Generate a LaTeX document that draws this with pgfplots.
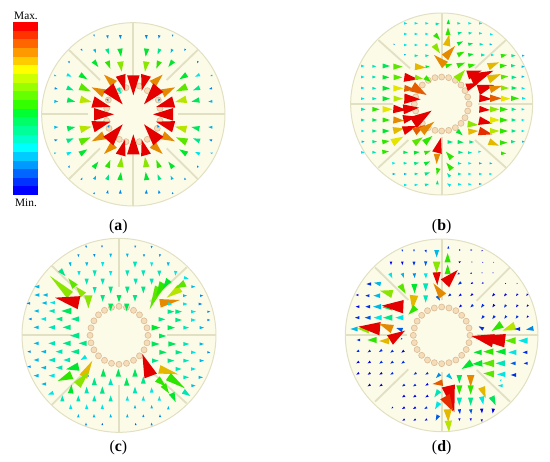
\documentclass[border=0pt]{standalone}
\usepackage{fontspec}
\setmainfont{Liberation Serif}
\usepackage{pgfplots}
\usepackage{pgfplotstable}
\pgfplotsset{compat=1.18}
\definecolor{discfill}{HTML}{FCFBE8}
\definecolor{discedge}{HTML}{E2E0C2}
\definecolor{ringfill}{HTML}{F6DDBA}
\definecolor{ringedge}{HTML}{DDBE98}
\pgfplotsset{colormap={field}{rgb255=(0,0,255) rgb255=(0,51,255) rgb255=(0,102,255) rgb255=(0,153,255) rgb255=(0,204,255) rgb255=(0,255,255) rgb255=(0,255,204) rgb255=(0,255,153) rgb255=(0,255,102) rgb255=(0,255,51) rgb255=(51,255,0) rgb255=(102,255,0) rgb255=(153,255,0) rgb255=(204,255,0) rgb255=(255,255,0) rgb255=(255,204,0) rgb255=(255,153,0) rgb255=(255,102,0) rgb255=(255,51,0) rgb255=(255,0,0)}}
\pgfdeclareplotmark{arw}{%
 \pgfmathsetmacro\aL{0.2*veclen(\dX,\dY)}%
 \pgfmathsetmacro\aC{\cC>=16.5?20:13}%
 \pgfmathsetmacro\aW{0.2*min(0.3*veclen(\dX,\dY)+0.8,\aC)}%
 \pgfmathsetmacro\aA{atan2(-\dY,\dX)}%
 \pgftransformrotate{\aA}%
 \pgfpathmoveto{\pgfqpoint{\aL pt}{0pt}}%
 \pgfpathlineto{\pgfqpoint{0pt}{\aW pt}}%
 \pgfpathlineto{\pgfqpoint{0pt}{-\aW pt}}%
 \pgfpathclose\pgfusepathqfill}
\pgfdeclareplotmark{band}{%
 \pgfpathrectangle{\pgfqpoint{-7.5pt}{-2.65pt}}{\pgfqpoint{15pt}{5.3pt}}\pgfusepathqfill}
\pgfplotstableread{
x y c
75.5 79 19
75.5 105 18
75.5 131 17
75.5 157 16
75.5 183 15
75.5 209 14
75.5 235 13
75.5 261 12
75.5 287 11
75.5 313 10
75.5 339 9
75.5 365 8
75.5 391 7
75.5 417 6
75.5 443 5
75.5 469 4
75.5 495 3
75.5 521 2
75.5 547 1
75.5 572 0
}\barT
\pgfplotstableread{
x y
378 263
418 258
442 272
358 272
325 300
320 325
320 362
327 385
358 418
378 425
418 425
442 418
472 385
480 362
480 325
475 300
}\ringA
\pgfplotstableread{
x y
480 233
500 231
521 233
541 241
558 255
570 272
578 291
582 312
578 333
570 353
558 370
541 383
521 391
500 393
480 391
460 383
442 370
430 353
422 333
418 312
422 291
430 272
442 255
460 241
}\ringB
\pgfplotstableread{
x y
357 229
379.5 232
400.5 241
418.5 254.5
432.3 272.5
441 293.5
444 316
441 338.5
432.3 359.5
418.5 377.5
400.5 391
379.5 400
357 403
334.5 400
313.5 391
295.5 377.5
281.7 359.5
273 338.5
270 316
273 293.5
281.7 272.5
295.5 254.5
313.5 241
334.5 232
}\ringC
\pgfplotstableread{
x y
500 231
522 234
542.5 242
560 256
573.6 273.5
582 294
585 316
582 338
573.6 358.5
560 376
542.5 390
522 398
500 401
478 398
457.5 390
440 376
426.4 358.5
418 338
415 316
418 294
426.4 273.5
440 256
457.5 242
478 234
}\ringD
\pgfplotstableread{
x y dx dy c
282 104 1 6 3
322 106 2 10 3
361 105 0 12 3
518 104 -1 6 3
478 106 -2 10 3
439 105 0 12 3
282 582 1 -6 3
322 580 2 -10 3
361 581 0 -12 3
518 582 -1 -6 3
478 580 -2 -10 3
439 581 0 -12 3
244 147 3 6 3
283 148 5 11 4
321 147 6 16 7
360 146 3 24 9
556 147 -3 6 3
517 148 -5 11 4
479 147 -6 16 7
440 146 -3 24 9
244 539 3 -6 3
283 538 5 -11 4
321 539 6 -16 7
360 540 3 -24 9
556 539 -3 -6 3
517 538 -5 -11 4
479 539 -6 -16 7
440 540 -3 -24 9
206 184 3 6 3
281 183 14 18 9
322 184 9 22 10
361 185 4 30 12
594 184 -3 6 3
519 183 -14 18 9
478 184 -9 22 10
439 185 -4 30 12
206 502 3 -6 3
281 503 14 -18 9
322 502 9 -22 10
361 501 4 -30 12
594 502 -3 -6 3
519 503 -14 -18 9
478 502 -9 -22 10
439 501 -4 -30 12
163 226 6 2 4
201 224 14 6 5
240 224 22 14 9
637 226 -6 2 4
599 224 -14 6 5
560 224 -22 14 9
163 460 6 -2 4
201 462 14 -6 5
240 462 22 -14 9
637 460 -6 -2 4
599 462 -14 -6 5
560 462 -22 -14 9
164 265 9 2 3
201 263 20 8 7
240 260 32 14 11
636 265 -9 2 3
599 263 -20 8 7
560 260 -32 14 11
164 421 9 -2 3
201 423 20 -8 7
240 426 32 -14 11
636 421 -9 -2 3
599 423 -20 -8 7
560 426 -32 -14 11
163 304 12 1 4
202 300 24 5 8
241 298 34 8 13
637 304 -12 1 4
598 300 -24 5 8
559 298 -34 8 13
163 382 12 -1 4
202 386 24 -5 8
241 388 34 -8 13
637 382 -12 -1 4
598 386 -24 -5 8
559 388 -34 -8 13
342 252 -30 -28 16
312 280 -37 -18 16
458 252 30 -28 16
488 280 37 -18 16
342 434 -30 28 16
312 406 -37 18 16
458 434 30 28 16
488 406 37 18 16
400 226 0 60 19
362 226 13 46 19
438 226 -13 46 19
325 263 43 50 19
475 263 -43 50 19
279 306 53 15 19
521 306 -53 15 19
282 343 60 0 19
519 343 -60 0 19
279 380 53 -15 19
521 380 -53 -15 19
325 423 43 -50 19
475 423 -43 -50 19
362 465 13 -46 19
438 465 -13 -46 19
400 463 0 -60 19
355 265 8 16 6
322 297 3 8 3
478 297 -3 8 3
325 382 3 -8 3
475 382 -3 -8 3
}\arrA
\pgfplotstableread{
x y dx dy c
387 70 10 0 5
419 70 10 0 5
451 70 10 0 5
482 72 12 -1 6
520 72 0 -14 9
547 70 10 0 6
580 70 10 0 5
612 70 10 0 5
387 102 10 0 5
419 102 10 0 5
451 102 10 0 5
480 103 15 17 10
519 105 0 -23 10
549 100 12 -3 7
581 100 11 -2 6
612 100 10 0 5
645 103 9 0 5
356 133 4 0 3
387 135 10 0 5
419 135 10 0 5
451 135 10 0 5
478 135 17 25 12
515 137 8 -34 15
548 132 16 -8 9
580 133 14 -3 8
614 133 11 0 6
644 133 8 0 4
388 165 5 -3 4
419 167 11 0 6
451 167 11 0 6
510 195 -33 -30 16
510 172 30 -34 16
548 165 20 -10 10
580 165 16 -3 9
618 165 13 0 6
648 165 10 0 5
678 168 18 -4 10
709 167 13 0 7
741 167 8 0 4
258 198 11 0 5
292 199 12 0 6
323 198 22 0 8
355 200 28 0 11
420 200 33 3 15
452 200 12 0 9
512 198 20 -6 10
547 197 23 -9 10
580 198 22 -4 10
640 200 32 -13 15
675 198 21 -2 10
708 197 14 0 7
740 200 9 0 4
258 231 11 0 5
292 231 12 0 6
323 232 20 0 9
356 232 26 0 11
388 232 42 6 19
420 232 24 4 12
450 232 18 14 10
545 238 25 -28 12
578 225 42 -13 19
590 240 65 -28 19
640 238 38 -16 15
678 231 22 -2 11
710 232 15 0 7
740 230 9 0 4
258 264 11 0 5
292 265 12 0 6
323 265 22 0 9
355 265 30 0 14
388 265 32 3 17
412 260 43 25 17
575 262 35 -12 19
610 270 48 -15 19
645 268 35 -10 16
678 264 24 0 12
710 264 16 0 8
740 265 10 0 5
258 296 11 0 5
292 296 13 0 6
323 296 22 0 9
356 296 28 0 13
388 296 49 2 19
613 295 37 2 19
645 295 35 0 17
678 296 28 0 14
708 295 24 0 10
741 295 11 0 5
258 328 14 0 6
292 328 22 0 10
323 328 30 0 14
355 327 40 3 19
385 328 47 -5 19
613 328 32 2 19
645 328 28 0 12
675 328 24 0 10
710 328 14 0 7
740 328 9 0 5
258 360 12 0 6
292 360 15 0 8
323 360 22 0 10
355 360 33 2 16
385 358 40 -8 19
415 368 55 -36 19
612 362 40 8 19
645 360 30 0 14
675 360 24 0 10
710 360 14 0 7
740 360 9 0 5
259 393 10 0 5
292 393 14 0 7
323 393 21 0 9
355 392 33 -7 15
385 392 40 -14 19
418 395 32 -20 17
440 395 38 -30 16
578 372 32 3 12
547 392 16 14 9
580 395 30 -2 15
612 393 40 10 18
645 393 28 0 13
675 393 24 0 10
710 393 14 0 7
740 393 9 0 5
260 425 9 0 4
292 425 14 0 7
322 426 22 -3 10
352 428 33 -18 14
417 430 26 -18 11
448 428 24 -20 10
486 458 12 -45 19
518 426 16 0 7
548 426 18 1 8
583 426 14 0 7
642 425 30 12 15
675 428 22 0 10
708 425 14 0 7
741 425 8 0 4
258 457 11 0 5
292 457 12 0 6
322 456 20 -2 10
385 457 14 0 8
417 458 17 -2 9
449 459 18 -7 10
486 462 -1 30 16
530 475 -17 -20 10
550 457 14 0 7
579 458 12 0 6
610 455 9 0 5
678 460 16 0 10
352 490 10 -1 5
386 490 11 -1 6
418 491 14 -3 7
449 492 16 -8 9
490 505 -5 20 10
530 508 -16 -20 10
549 490 11 1 6
580 490 10 0 5
612 490 9 0 4
644 490 8 0 4
353 522 9 0 4
387 522 9 0 4
419 522 11 -1 6
450 522 15 -5 7
525 530 -9 -11 6
549 522 11 0 6
580 522 10 0 5
612 522 10 0 5
643 522 9 0 5
387 555 10 0 5
419 555 10 -1 5
450 555 12 -3 6
487 553 0 -12 7
526 557 -10 -7 5
549 553 11 0 5
580 553 10 0 5
612 552 9 0 4
}\arrB
\pgfplotstableread{
x y dx dy c
258 47 1 7 3
306 47 0 6 2
406 47 -1 7 3
455 48 -1 7 3
235 73 1 8 3
283 72 0 9 3
332 71 0 11 4
382 71 0 11 4
432 73 0 8 3
480 73 -1 8 3
210 97 2 12 4
260 97 1 12 4
308 96 0 14 5
405 95 0 18 6
455 97 0 13 5
505 97 -1 12 4
180 120 16 18 7
237 123 0 14 5
284 121 0 18 6
332 123 0 14 5
382 121 0 18 6
430 121 0 18 6
478 122 0 17 6
527 123 -1 14 5
260 146 0 18 6
308 146 0 18 6
407 146 0 18 6
455 146 0 18 6
284 171 0 18 6
332 170 0 20 7
382 170 0 20 7
430 170 0 20 7
357 195 0 22 8
308 195 0 20 7
405 195 0 20 7
332 221 0 22 8
380 221 0 22 8
210 195 -60 -57 12
225 170 -20 -25 11
250 195 -22 -25 12
265 196 0 39 12
237 218 -72 -15 19
477 172 -28 66 11
490 160 -22 40 10
507 150 -18 25 9
540 175 -40 28 13
555 160 -30 15 11
480 220 60 -10 16
552 143 14 3 5
118 170 -15 0 4
118 195 -15 0 4
143 195 -15 0 4
90 220 -10 0 3
140 219 -15 0 4
165 218 -15 0 5
116 243 -14 0 4
164 243 -18 0 6
214 243 -30 0 8
95 267 -10 0 3
138 267 -16 0 5
187 267 -20 0 7
237 267 -24 0 7
116 292 -15 0 4
165 292 -20 0 6
212 292 -24 0 7
238 317 -28 0 7
116 340 -15 0 4
165 340 -20 0 6
212 340 -24 0 7
260 340 -24 0 7
92 365 -10 0 3
138 365 -15 0 4
187 365 -20 0 6
237 365 -24 0 7
116 390 -15 0 4
165 390 -20 0 6
210 390 -20 0 6
258 380 -16 10 5
92 410 -10 0 3
138 413 -15 0 4
187 413 -20 0 6
236 410 -38 8 9
116 437 -15 0 4
164 437 -18 0 5
215 435 -42 18 10
138 462 -14 0 4
160 488 -16 6 5
262 440 -2 -14 3
250 440 27 -48 15
232 465 36 -42 12
212 490 3 -26 9
310 440 0 -24 8
355 440 0 -24 8
405 440 0 -24 8
283 465 0 -22 7
332 465 0 -20 6
380 467 0 -24 8
430 461 0 -22 7
260 490 0 -20 6
307 491 0 -22 7
405 490 0 -20 6
455 488 0 -16 5
187 514 0 -18 6
235 514 0 -18 6
283 514 0 -18 6
332 514 0 -18 6
382 512 0 -14 5
430 512 0 -14 5
478 512 0 -14 5
212 537 0 -14 5
260 537 0 -14 5
307 537 0 -14 5
405 535 0 -10 4
455 535 0 -10 4
505 538 0 -10 4
235 562 0 -10 4
282 562 0 -10 4
332 562 0 -10 4
382 562 0 -10 4
430 561 0 -8 3
480 561 0 -8 3
258 586 0 -8 3
307 585 0 -6 2
407 585 0 -6 2
455 586 0 -8 3
574 170 12 0 4
549 197 12 0 4
600 197 10 0 3
504 222 14 0 5
549 222 14 0 5
596 222 11 0 3
503 245 20 0 7
526 245 20 0 7
573 245 15 0 5
622 245 9 0 3
476 268 20 0 7
526 270 20 0 7
573 270 15 0 5
622 270 9 0 3
455 293 26 0 9
503 293 22 0 8
550 293 17 0 6
599 293 13 0 4
477 318 22 0 8
455 342 24 0 8
505 342 24 0 8
550 342 18 0 6
599 342 13 0 4
478 367 22 0 8
527 367 20 0 7
573 367 15 0 5
622 367 9 0 3
456 392 20 0 7
503 392 20 0 7
550 392 17 0 6
599 392 13 0 4
527 417 18 0 6
573 417 15 0 5
550 442 17 0 6
596 442 13 0 4
574 467 13 0 4
452 438 -25 -66 19
478 418 57 15 15
505 440 50 35 10
472 447 25 22 10
490 465 17 25 10
515 490 12 26 9
550 484 21 14 6
}\arrC
\pgfplotstableread{
x y dx dy c
382 59 0 6 1
417 59 0 6 1
452 60 2 8 1
485 60 0 22 4
520 56 0 -8 1
552 60 5 0 0
587 60 5 0 0
620 62 4 0 0
348 95 0 10 0
382 95 0 10 0
417 95 0 12 1
452 94 0 14 2
485 95 0 35 12
518 97 0 -28 10
552 97 6 -3 0
590 96 3 0 0
622 97 3 0 0
655 97 2 0 0
345 130 7 15 5
382 130 5 14 4
418 130 1 14 3
452 130 1 16 5
485 127 2 38 19
553 130 -6 3 1
518 132 0 -28 10
590 129 -5 2 0
622 128 -3 1 0
655 128 -3 1 0
510 160 38 -40 19
288 162 -14 0 1
317 162 -20 -4 4
376 165 16 26 11
418 162 1 28 9
452 160 0 24 6
558 157 -9 7 1
593 158 -6 4 0
625 158 -5 3 0
692 160 -2 2 0
727 160 -2 2 0
250 195 -8 0 0
283 197 -12 0 1
315 197 -20 0 4
352 192 -37 -10 12
452 196 0 22 6
487 198 8 14 2
503 198 -28 -38 16
527 193 -8 6 1
558 193 -7 6 0
593 192 -7 6 0
658 192 -7 7 0
693 192 -6 7 0
728 192 -5 6 0
758 192 -4 6 0
417 196 -5 44 15
253 230 -11 0 0
285 230 -14 0 1
318 230 -24 0 4
352 232 -30 0 8
385 230 -65 -3 19
422 232 -22 22 10
559 226 -7 6 0
594 225 -8 7 1
625 224 -7 9 1
658 224 -6 8 0
693 225 -6 8 1
728 225 -5 7 0
759 225 -4 6 0
253 263 -13 0 1
287 263 -18 0 2
320 263 -24 0 5
352 263 -28 0 7
385 263 -24 0 5
626 258 -7 9 1
659 258 -7 9 1
694 258 -6 8 1
728 258 -6 8 1
759 258 -4 6 0
248 297 -22 0 4
282 299 -34 -3 12
315 296 -65 -6 19
352 297 -40 -16 16
382 300 -18 -6 2
625 297 -14 -8 1
680 283 -30 20 10
720 288 -38 14 13
735 297 -16 0 1
775 295 -22 4 3
255 330 -10 0 1
305 330 -28 0 10
342 333 -30 0 15
345 330 45 -28 19
381 325 -4 4 2
690 332 -100 -12 19
655 332 -65 -14 19
722 332 -32 0 11
758 332 -28 0 5
252 362 -8 4 1
286 362 -8 5 1
321 360 -9 6 1
354 362 -8 6 1
387 362 -8 6 0
620 367 -24 0 9
655 365 -30 0 10
692 365 -30 0 9
724 367 -24 0 5
757 367 -14 0 1
252 395 -8 5 0
286 395 -8 5 0
321 395 -8 6 1
354 395 -8 6 1
387 395 -8 6 1
590 398 -30 19 9
622 400 -30 2 9
657 400 -35 0 11
690 400 -28 0 6
722 400 -16 0 2
758 400 -12 0 1
252 429 -8 5 0
286 429 -8 5 0
321 429 -8 5 0
354 429 -8 5 1
424 429 -8 5 1
459 429 -8 5 1
495 432 -12 12 3
518 434 14 14 4
553 435 0 25 8
587 435 0 35 16
657 432 -32 -2 11
691 433 -25 0 5
723 435 -16 0 1
286 464 -8 5 0
321 464 -8 5 0
389 464 -8 5 1
422 464 -8 5 1
459 462 -8 5 0
503 458 -30 4 17
553 466 0 28 10
587 466 0 28 10
620 472 12 32 15
520 468 18 78 19
510 500 25 45 18
676 452 4 -4 5
683 467 -14 0 5
389 497 -8 5 0
422 497 -8 5 0
459 497 -8 5 0
492 482 -14 20 6
553 503 0 24 6
587 503 0 24 7
620 500 5 24 5
650 500 12 26 8
354 532 -5 3 0
389 532 -8 5 0
422 532 -8 5 0
456 532 -8 5 1
492 518 -12 20 5
553 538 2 14 1
587 538 2 14 2
620 536 1 14 0
655 536 -2 14 0
389 568 -7 4 0
422 568 -7 4 0
456 568 -7 4 0
490 556 -8 16 2
553 565 1 8 0
587 565 1 8 0
620 568 1 8 0
518 538 2 38 15
520 572 2 34 13
}\arrD
\newcommand{\arrows}[3]{\addplot[scatter, only marks, mark=arw, scatter src=explicit,
   scatter/use mapped color={draw=none, fill=mapped color!90!black},
   visualization depends on={\thisrow{dx} \as \dX},
   visualization depends on={\thisrow{dy} \as \dY},
   visualization depends on={\thisrow{c} \as \cC}]
   table[x expr=\thisrow{x}+#2, y expr=\thisrow{y}+#3, meta=c]{#1};}
\newcommand{\ring}[3]{\addplot[only marks, mark=*, mark size=1.8pt, draw=ringedge, fill=ringfill,
   mark options={draw=ringedge, fill=ringfill, line width=0.4pt}]
   table[x expr=\thisrow{x}+#2, y expr=\thisrow{y}+#3]{#1};}
\newcommand{\disc}[3]{\fill[discfill] (axis cs:#1,#2) circle[radius=#3];
   \draw[discedge, line width=0.6pt] (axis cs:#1,#2) circle[radius=#3];}
\newcommand{\rib}[4]{\draw[discedge, line width=1.1pt] (axis cs:#1,#2) -- (axis cs:#3,#4);}
\begin{document}
\begin{tikzpicture}
\begin{axis}[x=0.2pt, y=0.2pt, xmin=0, xmax=1650, ymin=0, ymax=1383, y dir=reverse,
  axis lines=none, clip=false, point meta min=0, point meta max=19, colormap name=field,
  scale only axis]
\path (axis cs:0,0) rectangle (axis cs:1650,1383);
% panel a
\disc{400}{343}{275}
\rib{400}{68}{400}{240}\rib{400}{446}{400}{618}\rib{125}{343}{265}{343}\rib{535}{343}{676}{343}
\rib{207}{150}{300}{240}\rib{593}{150}{500}{240}\rib{207}{537}{300}{445}\rib{593}{537}{500}{445}
% panel b
\disc{1325}{312}{273}
\rib{1325}{40}{1325}{195}\rib{1325}{410}{1325}{585}\rib{1053}{312}{1180}{312}\rib{1435}{312}{1598}{312}
\rib{1135}{120}{1230}{205}\rib{1518}{120}{1425}{205}\rib{1135}{503}{1225}{420}\rib{1518}{503}{1425}{420}
% panel c
\disc{357}{1006}{291}
\rib{357}{715}{357}{860}\rib{357}{1155}{357}{1298}\rib{65}{1006}{215}{1006}\rib{500}{1006}{648}{1006}
\rib{155}{797}{262}{900}\rib{560}{802}{450}{905}\rib{155}{1215}{255}{1115}\rib{560}{1210}{460}{1120}
% panel d
\disc{1325}{1006}{289}
\rib{1325}{717}{1325}{900}\rib{1325}{1115}{1325}{1295}\rib{1037}{1006}{1220}{1006}\rib{1430}{1006}{1615}{1006}
\rib{1125}{802}{1225}{900}\rib{1530}{802}{1430}{902}\rib{1125}{1205}{1225}{1108}\rib{1530}{1205}{1430}{1110}
\ring{\ringA}{0}{0}
\ring{\ringB}{825}{0}
\ring{\ringC}{0}{690}
\ring{\ringD}{825}{690}
\arrows{\arrA}{0}{0}
\arrows{\arrB}{825}{0}
\arrows{\arrC}{0}{690}
\arrows{\arrD}{825}{690}
\addplot[scatter, only marks, mark=band, scatter src=explicit] table[x=x, y=y, meta=c]{\barT};
\node[font=\fontsize{6.8}{8}\selectfont] at (axis cs:78,47) {Max.};
\node[font=\fontsize{6.8}{8}\selectfont] at (axis cs:78,607) {Min.};
\node[font=\fontsize{9.5}{11}\selectfont] at (axis cs:355,680) {(\textbf{a})};
\node[font=\fontsize{9.5}{11}\selectfont] at (axis cs:1325,680) {(\textbf{b})};
\node[font=\fontsize{9.5}{11}\selectfont] at (axis cs:355,1342) {(\textbf{c})};
\node[font=\fontsize{9.5}{11}\selectfont] at (axis cs:1325,1342) {(\textbf{d})};
\end{axis}
\end{tikzpicture}
\end{document}
